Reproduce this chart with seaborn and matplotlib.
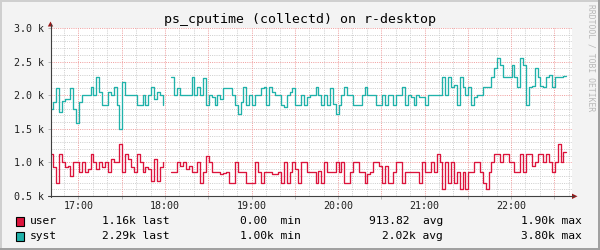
import numpy as np
import pandas as pd
import matplotlib
matplotlib.use("Agg")
import matplotlib.pyplot as plt
import seaborn as sns
from matplotlib.lines import Line2D
from matplotlib.patches import Rectangle, Polygon

# ---------------- data ----------------
title = "ps_cputime (collectd) on r-desktop"
watermark = "RRDTOOL / TOBI OETIKER"
series_names = ["user", "syst"]
series_colors = ["#DC143C", "#20B2AA"]

start_min = -19.6      # minutes relative to 17:00 of first sample
step_min = 2.0         # minutes between samples

nan = float("nan")
user_k = [1.13, 0.93, 0.7, 1.13, 1.0, 0.93, 0.95, 0.8, 1.0, 1.0,
          0.85, 1.0, 0.85, 0.9, 1.13, 1.0, 0.9, 1.0, 0.93, 1.0,
          0.85, 1.05, 1.0, 1.0, 1.27, 0.85, 1.13, 1.05, 0.93, 0.85,
          1.13, 1.0, 0.85, 0.93, 0.9, 0.72, 1.05, 0.72, 0.93, 1.0,
          nan, nan, 0.85, 0.85, 1.0,
          0.95, 1.0, 0.9, 0.95, 0.85, 0.85, 1.0, 0.7, 0.85, 1.1,
          1.0, 0.85, 0.85, 0.85, 0.83, 0.84, 0.85, 0.7, 0.7, 1.0,
          0.85, 0.85, 0.85, 0.7, 0.7, 0.7, 1.0, 0.85, 0.7, 0.85,
          0.85, 0.85, 0.83, 0.83, 0.85, 0.7, 1.0, 0.7, 0.85, 1.0,
          0.9, 0.7, 1.0, 1.0, 0.85,
          0.85, 0.85, 0.7, 0.87, 0.7, 1.0, 0.85, 0.85, 0.85, 1.0,
          0.85, 1.0, 0.7, 0.7, 0.85, 1.0, 1.0, 0.85, 0.85, 0.7,
          0.83, 0.85, 1.0, 1.01, 0.95, 0.7, 0.95, 0.7, 0.7, 0.85,
          1.0, 1.0, 0.7, 0.85, 0.85, 0.85, 0.85, 0.85, 0.7, 1.0,
          0.85, 0.85, 1.0, 0.85, 1.13,
          1.0, 0.6, 1.0, 0.7, 1.0, 0.7, 0.86, 0.6, 0.86, 0.6,
          0.86, 0.86, 1.0, 1.0, 0.86, 0.7, 0.6, 0.86, 1.0, 1.12,
          1.12, 1.0, 1.12, 1.12, 1.0, 1.0, 0.86, 0.86, 1.12, 0.86,
          1.12, 1.12, 0.95, 1.0, 1.12, 1.12, 1.0, 1.12, 1.0, 0.86,
          1.0, 1.28, 1.0, 1.16]

syst_k = [1.8, 1.9, 2.1, 1.75, 1.92, 1.95, 1.95, 2.1, 1.8, 1.58,
          1.9, 2.0, 2.0, 2.0, 2.12, 2.0, 2.27, 2.05, 1.85, 1.85,
          2.05, 2.0, 2.12, 1.85, 1.5, 2.2, 2.0, 2.0, 2.0, 2.0,
          1.85, 1.85, 2.0, 1.85, 2.0, 2.12, 1.95, 2.05, 2.0, 1.85,
          nan, nan, 2.27, 2.0, 2.1,
          2.0, 2.0, 2.0, 2.0, 2.27, 2.0, 2.12, 2.0, 2.25, 1.86,
          2.0, 1.97, 1.85, 2.0, 1.95, 2.1, 2.1, 2.1, 2.0, 1.85,
          1.72, 1.9, 2.12, 1.85, 2.0, 1.85, 2.0, 2.0, 2.1, 2.12,
          1.85, 2.12, 2.05, 2.0, 2.0, 1.85, 1.83, 2.0, 2.05, 2.1,
          1.86, 1.85, 2.0, 1.85, 1.97,
          2.0, 2.0, 2.12, 2.0, 1.85, 2.0, 1.85, 2.1, 1.87, 1.72,
          1.85, 2.0, 2.12, 2.0, 2.0, 1.85, 1.85, 1.85, 2.0, 2.12,
          2.0, 2.0, 2.0, 1.85, 1.85, 2.0, 1.85, 2.0, 2.0, 1.85,
          2.0, 2.0, 2.12, 1.85, 2.0, 1.97, 1.85, 2.0, 1.97, 1.97,
          1.85, 2.0, 2.0, 2.0, 2.0,
          2.0, 2.27, 2.0, 2.27, 2.12, 2.15, 1.85, 2.27, 2.12, 2.0,
          2.12, 1.85, 1.97, 2.0, 2.0, 2.12, 2.12, 2.12, 2.27, 2.4,
          2.56, 2.45, 2.27, 2.27, 2.27, 2.45, 2.27, 2.12, 2.56, 2.45,
          1.85, 2.12, 2.13, 2.4, 2.27, 2.13, 2.12, 2.27, 2.3, 2.12,
          2.27, 2.27, 2.27, 2.29]

hour_positions = [0, 60, 120, 180, 240, 300]
hour_labels = ["17:00", "18:00", "19:00", "20:00", "21:00", "22:00"]
y_ticks = [500, 1000, 1500, 2000, 2500, 3000]
y_labels = ["0.5 k", "1.0 k", "1.5 k", "2.0 k", "2.5 k", "3.0 k"]

legend_last = ["1.16k", "2.29k"]
legend_min = ["0.00 ", "1.00k"]
legend_avg = ["913.82 ", "2.02k"]
legend_max = ["1.90k", "3.80k"]

x_min, x_max = -19.07, 342.3
y_min, y_max = 500, 3000

# ---------------- figure ----------------
W, H = 600, 250
sns.set_theme(style="white")
plt.rcParams["font.family"] = ["DejaVu Sans Mono", "DejaVu Sans"]

fig = plt.figure(figsize=(W / 100, H / 100), dpi=100)
fig.patch.set_facecolor("#F3F3F3")


def fx(px):
    return px / W


def fy(py):
    return 1 - py / H


L, R, T, B = 51, 572, 28, 196
ax = fig.add_axes([fx(L), fy(B), fx(R) - fx(L), fy(T) - fy(B)])
ax.set_facecolor("white")
for s in ax.spines.values():
    s.set_visible(False)

# grid
grid_minor = "#CFCFCF"
grid_major = "#F0A0A0"
dot = (0, (1, 1.2))
for v in range(600, 3000, 100):
    if v % 500:
        ax.axhline(v, color=grid_minor, lw=0.72, ls=dot, zorder=1)
for t in range(-10, 345, 10):
    if t % 30:
        ax.axvline(t, color=grid_minor, lw=0.72, ls=dot, zorder=1)
for v in y_ticks:
    ax.axhline(v, color=grid_major, lw=0.72, ls=dot, zorder=1.5)
for t in range(0, 345, 30):
    ax.axvline(t, color=grid_major, lw=0.72, ls=dot, zorder=1.5)

# data
frames = []
for name, vals in zip(series_names, [user_k, syst_k]):
    vals = list(vals) + [vals[-1]]
    t = start_min + step_min * np.arange(len(vals))
    v = np.array(vals, dtype=float) * 1000
    seg = np.cumsum(np.isnan(v))
    df = pd.DataFrame({"t": t, "v": v, "seg": seg, "series": name})
    frames.append(df.dropna())
data = pd.concat(frames, ignore_index=True)

for name, col in zip(series_names, series_colors):
    sns.lineplot(data=data[data.series == name], x="t", y="v", units="seg",
                 estimator=None, color=col, lw=0.95, drawstyle="steps-post",
                 ax=ax, legend=False, zorder=3)

ax.set_xlim(x_min, x_max)
ax.set_ylim(y_min, y_max)
ax.set_xlabel("")
ax.set_ylabel("")

xt = list(range(0, 345, 30))
xl = [hour_labels[hour_positions.index(t)] if t in hour_positions else "" for t in xt]
ax.set_xticks(xt, xl)
ax.set_yticks(y_ticks, y_labels)
ax.tick_params(axis="both", which="major", length=2.0, width=0.72,
               color="#B8B8B8", labelsize=7.2, labelcolor="#202020")
ax.tick_params(axis="x", pad=1.6, bottom=True)
ax.tick_params(axis="y", pad=3.0, left=True)

# axes lines & arrows
axis_col = "#404040"
arrow_col = "#9A1A1A"
fig.add_artist(Line2D([fx(50.5), fx(50.5)], [fy(197), fy(24)], color=axis_col, lw=0.8))
fig.add_artist(Line2D([fx(48), fx(574)], [fy(196.3), fy(196.3)], color=axis_col, lw=0.8))
fig.add_artist(Polygon([[fx(47.8), fy(26.5)], [fx(53.2), fy(26.5)], [fx(50.5), fy(21.5)]],
                       closed=True, color=arrow_col, lw=0))
fig.add_artist(Polygon([[fx(572), fy(193.6)], [fx(572), fy(199)], [fx(577.5), fy(196.3)]],
                       closed=True, color=arrow_col, lw=0))

# title
fig.text(0.5, fy(19.5), title, ha="center", va="center", fontsize=9.5, color="#000000")

# watermark
fig.text(fx(591.5), fy(58), watermark, rotation=-90, ha="center", va="center",
         fontsize=5.8, color="#B8B8B8")

# legend
rows_y = [221.5, 236.0]
for i, name in enumerate(series_names):
    yc = rows_y[i]
    fig.add_artist(Rectangle((fx(16), fy(yc + 4.5)), fx(8), 9 / H, facecolor=series_colors[i],
                             edgecolor="black", lw=0.8))
    kw = dict(va="center", fontsize=8.1, color="#000000")
    fig.text(fx(30), fy(yc), name, ha="left", **kw)
    fig.text(fx(169), fy(yc), legend_last[i] + " last", ha="right", **kw)
    fig.text(fx(301), fy(yc), legend_min[i] + " min", ha="right", **kw)
    fig.text(fx(443), fy(yc), legend_avg[i] + " avg", ha="right", **kw)
    fig.text(fx(582), fy(yc), legend_max[i] + " max", ha="right", **kw)

# frame shading
fig.add_artist(Line2D([0, 1], [fy(0.5), fy(0.5)], color="#CFCFCF", lw=1.4))
fig.add_artist(Line2D([fx(0.5), fx(0.5)], [0, 1], color="#CFCFCF", lw=1.4))
fig.add_artist(Line2D([0, 1], [fy(249.2), fy(249.2)], color="#9E9E9E", lw=1.4))
fig.add_artist(Line2D([fx(599.2), fx(599.2)], [0, 1], color="#9E9E9E", lw=1.4))

fig.savefig("out.png", dpi=100, facecolor=fig.get_facecolor())
